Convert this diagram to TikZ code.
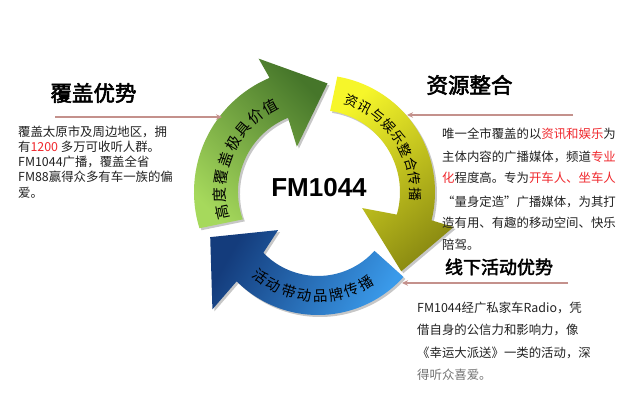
\documentclass[tikz,border=0pt]{standalone}
\usepackage{fontspec}
\setmainfont{Noto Sans CJK SC}
\newfontfamily\cjkb[FakeBold=2.5]{Noto Sans CJK SC}
\newfontfamily\latinb{Liberation Sans}
\usetikzlibrary{calc,shadows,arrows.meta}
\definecolor{glight}{HTML}{A6D95C}
\definecolor{gmid}{HTML}{78AE3E}
\definecolor{gdark}{HTML}{46762A}
\definecolor{ybright}{HTML}{F6F62A}
\definecolor{ymid}{HTML}{D6D61C}
\definecolor{yolive}{HTML}{8C8C12}
\definecolor{blight}{HTML}{3A9AEA}
\definecolor{bmid}{HTML}{1F6DC0}
\definecolor{bdark}{HTML}{143C7C}
\definecolor{rosyc}{HTML}{C4918C}
\definecolor{hred}{HTML}{F0282D}
\definecolor{bodytxt}{HTML}{222222}
\begin{document}
\begin{tikzpicture}[x=1pt,y=-1pt,
  shadowed/.style={drop shadow={shadow xshift=2pt,shadow yshift=-2pt,opacity=0.22,fill=black}},
  greenarrow/.style={shadowed,top color=gdark,middle color=gmid,bottom color=glight,shading angle=-45},
  yellowarrow/.style={shadowed,top color=ybright,middle color=ymid,bottom color=yolive,shading angle=40},
  bluearrow/.style={shadowed,top color=bdark,middle color=bmid,bottom color=blight,shading angle=60},
  arctext/.style={inner sep=0pt,text=black,font=\fontsize{14.5}{14.5}\selectfont},
  body/.style={inner sep=0pt,anchor=base west,text=bodytxt,font=\fontsize{12.4}{12.4}\selectfont},
  titlebox/.style={inner sep=0pt,text=black},
  rosy/.style={draw=rosyc,line width=1.5pt,-{Stealth[length=6pt,width=5.5pt]}}]
\useasboundingbox[fill=white] (0,0) rectangle (640,411);
\coordinate (O) at (318,192);
\coordinate (Ob) at (318,200);

% green arrow
\shade[greenarrow] ($(O)+(163:124)$) arc[start angle=163,end angle=247,radius=124]
  -- ($(O)+(246:146)$) -- ($(O)+(275:109)$) -- ($(O)+(245:50)$)
  -- ($(O)+(248:80)$) arc[start angle=248,end angle=160,radius=80] -- cycle;
% yellow arrow
\shade[yellowarrow] ($(O)+(279.5:117)$) arc[start angle=279.5,end angle=374,radius=117]
  -- ($(O)+(374.5:140)$) -- ($(O)+(403.6:115)$) -- ($(O)+(380:47)$)
  -- ($(O)+(376:82)$) arc[start angle=376,end angle=278.5,radius=82] -- cycle;
% blue arrow
\shade[bluearrow] ($(Ob)+(42:115)$) arc[start angle=42,end angle=135,radius=115]
  -- ($(Ob)+(134:152)$) -- ($(Ob)+(161:114)$) -- ($(Ob)+(143:50)$)
  -- ($(Ob)+(136:76)$) arc[start angle=136,end angle=42,radius=76] -- cycle;

% texts on arcs
\foreach \c [count=\i from 0] in {高,度,覆,盖,极,具,价,值}{
  \pgfmathsetmacro\s{168+\i*10.4}
  \node[arctext,font=\fontsize{15}{15}\selectfont,rotate=-\s-90] (g\i) at ($(O)+(\s:98)$) {\c};
}
\foreach \c [count=\i from 0] in {资,讯,与,娱,乐,整,合,传,播}{
  \pgfmathsetmacro\s{290+\i*8.9}
  \node[arctext,font=\fontsize{13.5}{13.5}\selectfont,rotate=-\s-90] (y\i) at ($(O)+(\s:97)$) {\c};
}
\foreach \c [count=\i from 0] in {活,动,带,动,品,牌,传,播}{
  \pgfmathsetmacro\s{127-\i*9.6}
  \node[arctext,rotate=90-\s] (b\i) at ($(Ob)+(\s:96)$) {\c};
}

% centre
\node[inner sep=0pt,anchor=base,font=\latinb\bfseries\fontsize{26}{26}\selectfont] (fm) at (319,196.7) {FM1044};

% titles
\node[titlebox,font=\cjkb\fontsize{21.5}{21.5}\selectfont] (t1) at (93.5,93) {覆盖优势};
\node[titlebox,font=\cjkb\fontsize{21.5}{21.5}\selectfont] (t2) at (469.5,85) {资源整合};
\node[titlebox,font=\cjkb\fontsize{18}{18}\selectfont] (t3) at (499,267) {线下活动优势};

% pointer lines
\coordinate (a1s) at (55,117);  \coordinate (a1e) at (222,117);
\coordinate (a2s) at (573,115); \coordinate (a2e) at (407,115);
\coordinate (a3s) at (568,283); \coordinate (a3e) at (402,283);
\draw[rosy] (a1s) -- (a1e);
\draw[rosy] (a2s) -- (a2e);
\draw[rosy] (a3s) -- (a3e);

% left text
\node[body] (l1) at (18,136.7) {覆盖太原市及周边地区，拥};
\node[body] (l2) at (18,151.7) {有\textcolor{hred}{1200} 多万可收听人群。};
\node[body] (l3) at (18,166.7) {FM1044广播，覆盖全省};
\node[body] (l4) at (18,181.7) {FM88赢得众多有车一族的偏};
\node[body] (l5) at (18,197.7) {爱。};

% right text
\node[body] (r1) at (442,138.7) {唯一全市覆盖的以\textcolor{hred}{资讯和娱乐}为};
\node[body] (r2) at (442,162) {主体内容的广播媒体，频道\textcolor{hred}{专业}};
\node[body] (r3) at (442,183) {\textcolor{hred}{化}程度高。专为\textcolor{hred}{开车人、坐车人}};
\node[body] (r4) at (442,206.4) {“量身定造”广播媒体，为其打};
\node[body] (r5) at (442,228) {造有用、有趣的移动空间、快乐};
\node[body] (r6) at (442,249.7) {陪驾。};

% bottom right text
\node[body] (s1) at (417,313) {FM1044经广私家车Radio，凭};
\node[body] (s2) at (417,334.7) {借自身的公信力和影响力，像};
\node[body] (s3) at (417,358) {《幸运大派送》一类的活动，深};
\node[body,text=black!55] (s4) at (417,379.7) {得听众喜爱。};
\end{tikzpicture}
\end{document}
